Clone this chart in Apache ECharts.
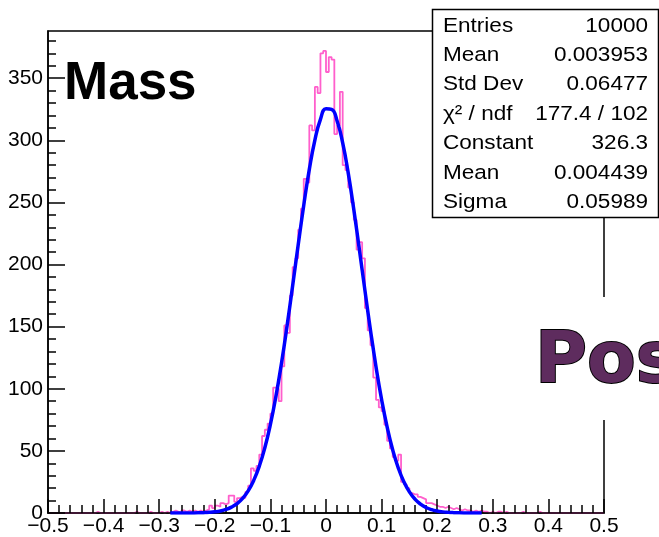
<!DOCTYPE html>
<html><head><meta charset="utf-8">
<script src="https://cdn.jsdelivr.net/npm/echarts@6/dist/echarts.min.js"></script>
<style>html,body{margin:0;padding:0;background:#fff}#c{width:659px;height:537px}</style>
</head><body><div id="c"></div><script>
// ---- data ----
const binMin = -0.5, binWidth = 0.005;
const countsLowTail = [0,0,0,0,0,0,0,0,0,0, 0,0,0,0,0,0,0,1,0,0, 0,0,0,0,0,0,0,0,0,0, 0,1,0,0,0,0,1,0,0,0];
const countsCore = [
  1,0,1,0,1,2,1,0,2,1,
  2,1,2,1,2,1,2,3,6,4,
  6,5,8,7,8,14,14,9,12,13,
  12,17,22,36,34,38,47,62,67,72,
  80,101,100,90,118,151,145,175,198,205,
  228,245,269,266,312,308,343,338,370,372,
  355,367,365,305,312,339,280,276,262,250,
  236,212,218,205,165,147,135,109,91,85,
  82,71,58,52,45,42,47,25,23,20,
  16,15,15,13,12,11,8,8,7,6,
  5,5,4,5,4,3,4,3,2,3,
  2,2,1,2,1,2,1,1,0,1];
const countsHighTail = [0,1,1,0,1,0,0,0,0,0, 1,0,0,0,0,0,1,0,0,0, 0,0,0,0,0,0,0,0,0,0, 0,0,0,0,0,0,0,0,0,0];
const fitStart = -0.28, fitStep = 0.01;
const fitY = [0.004,0.009,0.019,0.039,0.079,0.153,0.291,0.537,0.962,
  1.68,2.85,4.69,7.52,11.74,17.81,26.25,37.68,52.57,71.33,
  94.11,120.8,150.7,182.9,215.9,247.8,276.6,300.2,316.9,325.4,
  324.9,315.5,297.9,273.6,244.3,212.2,179.2,147.2,117.6,91.37,
  69.04,50.71,36.25,25.18,17.02,11.18,7.15,4.44,2.69,1.58,
  0.90,0.50,0.27,0.14,0.07,0.04,0.02,0.01];
const xTickLabels = ['\u22120.5','\u22120.4','\u22120.3','\u22120.2','\u22120.1','0','0.1','0.2','0.3','0.4','0.5'];
const yTickLabels = ['0','50','100','150','200','250','300','350'];
const statNames = ['Entries','Mean','Std Dev','\u03c7\u00b2 / ndf','Constant','Mean','Sigma'];
const statValues = ['10000','0.003953','0.06477','177.4 / 102','326.3','0.004439','0.05989'];
const titleText = 'Mass';
const sideText = 'Pos';

// ---- build ----
const counts = countsLowTail.concat(countsCore, countsHighTail);
const histPts = counts.map((c, i) => [binMin + i * binWidth, c]);
histPts.push([binMin + counts.length * binWidth, counts[counts.length - 1]]);
const fitPts = fitY.map((v, i) => [fitStart + i * fitStep, v]);
const yMajor = yTickLabels.map(Number);
const yMinor = [];
for (let v = 10; v < 388; v += 10) if (v % 50) yMinor.push(v);

const FF = '"Liberation Sans", Arial, sans-serif';
const chart = echarts.init(document.getElementById('c'), null, {renderer: 'canvas'});
const graphics = [];
graphics.push({type: 'rect', z: 100, shape: {x: 432.5, y: 9.5, width: 226, height: 208},
  style: {fill: '#fff', stroke: '#000', lineWidth: 1.5}});
statNames.forEach((n, i) => {
  const y = 26 + i * 29.4;
  graphics.push({type: 'text', z: 101, x: 443, y: y, scaleX: 1.1,
    style: {text: n, fontSize: 20.5, fontFamily: FF, fill: '#000', align: 'left', textAlign: 'left', verticalAlign: 'middle', textVerticalAlign: 'middle'}});
  graphics.push({type: 'text', z: 101, x: 648, y: y, scaleX: 1.1,
    style: {text: statValues[i], fontSize: 20.5, fontFamily: FF, fill: '#000', align: 'right', textAlign: 'right', verticalAlign: 'middle', textVerticalAlign: 'middle'}});
});
graphics.push({type: 'rect', z: 100, shape: {x: 520, y: 297, width: 139, height: 123}, style: {fill: '#fff'}});
graphics.push({type: 'text', z: 101, x: 535, y: 364,
  style: {text: sideText, fontSize: 71, fontWeight: 'bold', fontFamily: '"DejaVu Sans", sans-serif', fill: '#5e2c5e', stroke: '#000', lineWidth: 2,
    align: 'left', textAlign: 'left', verticalAlign: 'middle', textVerticalAlign: 'middle'}});
graphics.push({type: 'text', z: 101, x: 64, y: 84,
  style: {text: titleText, fontSize: 53, fontWeight: 'bold', fontFamily: FF, fill: '#000',
    align: 'left', textAlign: 'left', verticalAlign: 'middle', textVerticalAlign: 'middle'}});

const option = {
  animation: false,
  grid: {left: 48, right: 55, top: 31, bottom: 22, show: true, borderColor: '#000', borderWidth: 1.5, backgroundColor: 'transparent'},
  xAxis: {type: 'value', min: -0.5, max: 0.5, interval: 0.1, z: 2,
    axisLine: {onZero: false, lineStyle: {color: '#000', width: 1.5}},
    axisTick: {inside: true, length: 14, lineStyle: {color: '#000', width: 1.5}},
    minorTick: {show: true, splitNumber: 5, length: 8, lineStyle: {color: '#000', width: 1.5}},
    axisLabel: {margin: 3, fontSize: 21, color: '#000', fontFamily: FF, showMinLabel: true, showMaxLabel: true,
      formatter: v => xTickLabels[Math.round((v + 0.5) * 10)]},
    splitLine: {show: false}, minorSplitLine: {show: false}},
  yAxis: [
    {type: 'value', min: 0, max: 388, interval: 50, z: 2, position: 'left',
      axisLine: {show: true, onZero: false, lineStyle: {color: '#000', width: 1.5}},
      axisTick: {show: true, inside: true, length: 17, customValues: yMajor, lineStyle: {color: '#000', width: 1.5}},
      axisLabel: {margin: 5, fontSize: 21, color: '#000', fontFamily: FF, customValues: yMajor,
        formatter: v => yTickLabels[Math.round(v / 50)]},
      splitLine: {show: false}},
    {type: 'value', min: 0, max: 388, interval: 10, z: 2, position: 'left', offset: 0,
      axisLine: {show: false, onZero: false},
      axisTick: {show: true, inside: true, length: 8, customValues: yMinor, lineStyle: {color: '#000', width: 1.5}},
      axisLabel: {show: false}, splitLine: {show: false}}
  ],
  series: [
    {type: 'line', data: histPts, step: 'end', symbol: 'none', z: 1, silent: true,
      lineStyle: {color: '#ff5fcc', width: 1.8}},
    {type: 'line', data: fitPts, smooth: true, symbol: 'none', z: 3, silent: true,
      lineStyle: {color: '#0000ff', width: 3.5}}
  ],
  graphic: graphics
};
chart.setOption(option);
</script></body></html>
